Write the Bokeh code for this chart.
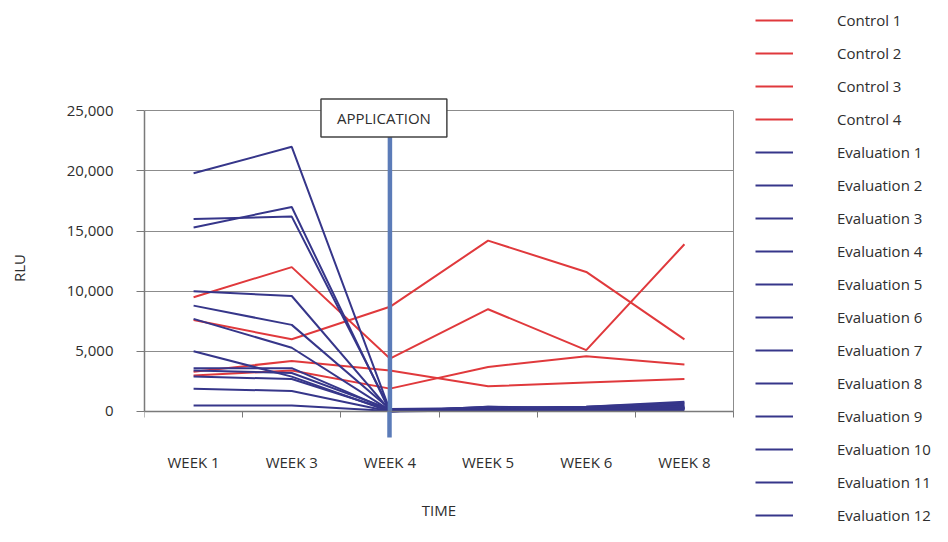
from bokeh.plotting import figure
from bokeh.models import (FixedTicker, NumeralTickFormatter, Range1d, Label, LinearAxis,
                          Legend, LegendItem, Grid)
from bokeh.embed import file_html
from bokeh.resources import INLINE

# ---- data ----
weeks = ["WEEK 1", "WEEK 3", "WEEK 4", "WEEK 5", "WEEK 6", "WEEK 8"]
application_week = "WEEK 4"
y_ticks = [0, 5000, 10000, 15000, 20000, 25000]

control_names = ["Control 1", "Control 2", "Control 3", "Control 4"]
control_1 = [9500, 12000, 4400, 8500, 5100, 13900]
control_2 = [7600, 6000, 8700, 14200, 11600, 6000]
control_3 = [3300, 4200, 3400, 2100, 2400, 2700]
control_4 = [3000, 3400, 1900, 3700, 4600, 3900]

evaluation_names = ["Evaluation %d" % i for i in range(1, 13)]
evaluation_1 = [19800, 22000, 100, 300, 400, 700]
evaluation_2 = [16000, 16200, 200, 200, 300, 500]
evaluation_3 = [15300, 17000, 0, 400, 300, 600]
evaluation_4 = [10000, 9600, 100, 100, 200, 300]
evaluation_5 = [8800, 7200, 200, 300, 200, 400]
evaluation_6 = [7700, 5300, 100, 200, 300, 200]
evaluation_7 = [5000, 2900, 0, 100, 100, 300]
evaluation_8 = [3600, 3600, 100, 300, 400, 800]
evaluation_9 = [3400, 3200, 200, 200, 200, 200]
evaluation_10 = [2900, 2700, 100, 100, 300, 400]
evaluation_11 = [1900, 1700, 0, 400, 200, 300]
evaluation_12 = [500, 500, 50, 100, 100, 100]

controls = [control_1, control_2, control_3, control_4]
evaluations = [evaluation_1, evaluation_2, evaluation_3, evaluation_4,
               evaluation_5, evaluation_6, evaluation_7, evaluation_8,
               evaluation_9, evaluation_10, evaluation_11, evaluation_12]

# ---- styles ----
FONT = "Open Sans"
TXT = "#2e2e2e"
RED = "#e0393c"
NAVY = "#36368a"
APP_BLUE = "#5b7bb8"
GRID = "#8c8c8c"
AXIS = "#7a7a7a"

xs = list(range(len(weeks)))
app_x = weeks.index(application_week)
y_top = y_ticks[-1]
x_start, x_end = -0.5, len(weeks) - 0.5

# the frame also holds the legend area (right) and the margins above/below the
# plot area, so that nothing drawn there gets clipped
p = figure(width=932, height=526, output_backend="svg", toolbar_location=None,
           x_range=Range1d(x_start, 7.527), y_range=Range1d(-9558, 33411),
           min_border_left=144, min_border_right=0, min_border_top=9,
           min_border_bottom=0)
p.outline_line_color = None
p.background_fill_color = "white"
p.border_fill_color = "white"

# x axis A: axis line, boundary ticks, application stub below the axis
xa = p.xaxis[0]
xa.fixed_location = 0
xa.bounds = (x_start, x_end)
xa.ticker = FixedTicker(ticks=[app_x], minor_ticks=[i - 0.5 for i in range(len(weeks) + 1)])
xa.major_tick_out = 26
xa.major_tick_in = 0
xa.major_tick_line_color = APP_BLUE
xa.major_tick_line_width = 4.5
xa.minor_tick_out = 6
xa.minor_tick_in = 0
xa.minor_tick_line_color = AXIS
xa.axis_line_color = AXIS
xa.axis_line_width = 1.5
xa.major_label_text_font_size = "0px"
xa.major_label_text_color = None
xa.major_label_standoff = 0
p.xgrid.visible = False

# x axis B: week labels and title
xb = LinearAxis(ticker=FixedTicker(ticks=xs), fixed_location=0, bounds=(x_start, x_end),
                major_label_overrides={i: w for i, w in enumerate(weeks)},
                major_tick_line_color=None, minor_tick_line_color=None,
                major_tick_out=0, minor_tick_out=0,
                axis_line_color=None, major_label_standoff=41,
                axis_label="TIME", axis_label_standoff=24)
p.add_layout(xb, "below")

# y axis
ya = p.yaxis[0]
ya.ticker = FixedTicker(ticks=y_ticks)
ya.bounds = (0, y_top)
ya.formatter = NumeralTickFormatter(format="0,0")
ya.minor_tick_line_color = None
ya.major_tick_out = 8
ya.major_tick_in = 0
ya.major_tick_line_color = AXIS
ya.axis_line_color = AXIS
ya.axis_line_width = 1.5
ya.major_label_standoff = 23
ya.axis_label = "RLU"
ya.axis_label_standoff = 35

# horizontal grid lines limited to the plot area
if "cross_bounds" in Grid.properties():
    p.ygrid.grid_line_color = GRID
    p.ygrid.grid_line_width = 1
    p.ygrid.cross_bounds = (x_start, x_end)
else:
    p.ygrid.visible = False
    p.segment(x0=[x_start] * len(y_ticks), y0=y_ticks, x1=[x_end] * len(y_ticks),
              y1=y_ticks, line_color=GRID, line_width=1)

for ax in (xb, ya):
    ax.major_label_text_font = FONT
    ax.major_label_text_font_size = "15px"
    ax.major_label_text_color = TXT
    ax.axis_label_text_font = FONT
    ax.axis_label_text_font_size = "15px"
    ax.axis_label_text_font_style = "normal"
    ax.axis_label_text_color = TXT

# right border of plot area
p.segment(x0=[x_end], y0=[0], x1=[x_end], y1=[y_top], line_color=GRID, line_width=1)

items = []
for name, vals in zip(control_names, controls):
    r = p.line(xs, vals, line_color=RED, line_width=2)
    items.append(LegendItem(label=name, renderers=[r]))
for name, vals in zip(evaluation_names, evaluations):
    r = p.line(xs, vals, line_color=NAVY, line_width=2)
    items.append(LegendItem(label=name, renderers=[r]))

# application marker
label_y = 24400
p.segment(x0=[app_x], y0=[0], x1=[app_x], y1=[label_y], line_color=APP_BLUE, line_width=4.5)
p.add_layout(Label(x=app_x, y=label_y, x_offset=-6, text="APPLICATION",
                   text_align="center", text_baseline="middle", text_font=FONT,
                   text_font_size="15px", text_color=TXT,
                   background_fill_color="white", border_line_color="#444444",
                   border_line_width=1.5, padding=(16, 9)))

legend = Legend(items=items, location=(611, 0), orientation="vertical",
                padding=0, margin=0, spacing=11, label_height=22, glyph_height=22,
                glyph_width=38, label_standoff=44, label_text_font=FONT,
                label_text_font_size="15px", label_text_color=TXT,
                border_line_color=None, background_fill_alpha=0)
p.add_layout(legend)

open("out.html", "w").write(file_html(p, INLINE))
